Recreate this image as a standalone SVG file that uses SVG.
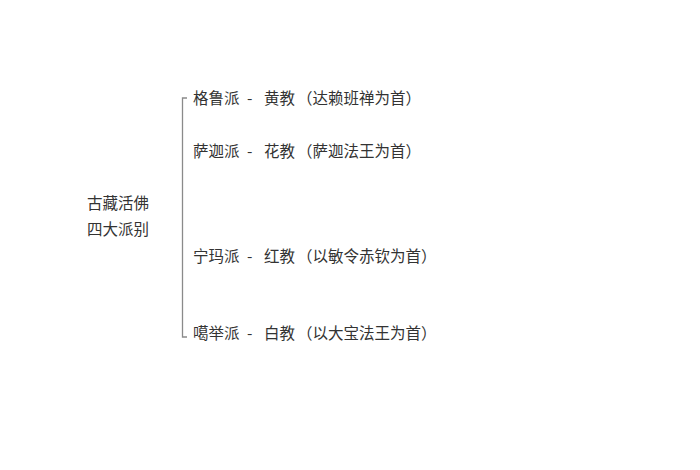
<svg xmlns="http://www.w3.org/2000/svg" width="700" height="470" viewBox="0 0 700 470">
<style>
text{font-family:"Noto Sans CJK SC","Noto Sans",sans-serif;font-size:15.5px;fill:#333}
.br{fill:none;stroke:#8a8a8a;stroke-width:1.3}
</style>
<rect width="700" height="470" fill="#fff"/>
<g id="root">
<text x="87" y="209">古藏活佛</text>
<text x="87" y="235">四大派别</text>
</g>
<g id="connectors">
<path class="br" d="M187,98 H182.5 V337 H187"/>
</g>
<g id="gelug">
<text y="103.5"><tspan x="193">格鲁派</tspan><tspan x="247">-</tspan><tspan x="264">黄教</tspan><tspan x="297">（达赖班禅为首）</tspan></text>
</g>
<g id="sakya">
<text y="157"><tspan x="193">萨迦派</tspan><tspan x="247">-</tspan><tspan x="264">花教</tspan><tspan x="297">（萨迦法王为首）</tspan></text>
</g>
<g id="nyingma">
<text y="262"><tspan x="193">宁玛派</tspan><tspan x="247">-</tspan><tspan x="264">红教</tspan><tspan x="297">（以敏令赤钦为首）</tspan></text>
</g>
<g id="kagyu">
<text y="338.5"><tspan x="193">噶举派</tspan><tspan x="247">-</tspan><tspan x="264">白教</tspan><tspan x="297">（以大宝法王为首）</tspan></text>
</g>
</svg>
